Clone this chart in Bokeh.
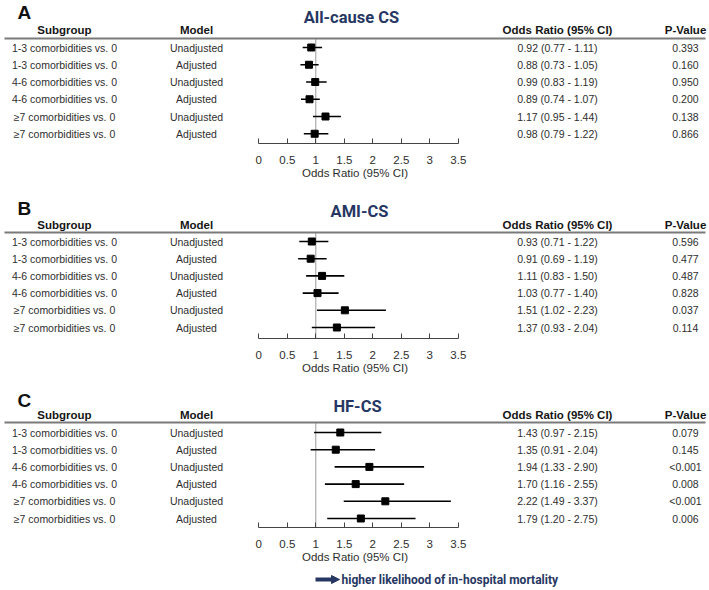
from bokeh.plotting import figure
from bokeh.models import Range1d, LinearAxis, FixedTicker, NumeralTickFormatter, Arrow, NormalHead, ColumnDataSource
from bokeh.layouts import column
from bokeh.embed import file_html
from bokeh.resources import INLINE
from bokeh.core.properties import value

# ---------------- data ----------------
subgroups = ["1-3 comorbidities vs. 0", "1-3 comorbidities vs. 0",
             "4-6 comorbidities vs. 0", "4-6 comorbidities vs. 0",
             "\u22657 comorbidities vs. 0", "\u22657 comorbidities vs. 0"]
models = ["Unadjusted", "Adjusted", "Unadjusted", "Adjusted", "Unadjusted", "Adjusted"]

panel_letters = ["A", "B", "C"]
panel_titles = ["All-cause CS", "AMI-CS", "HF-CS"]

or_A = [0.92, 0.88, 0.99, 0.89, 1.17, 0.98]
lo_A = [0.77, 0.73, 0.83, 0.74, 0.95, 0.79]
hi_A = [1.11, 1.05, 1.19, 1.07, 1.44, 1.22]
p_A = ["0.393", "0.160", "0.950", "0.200", "0.138", "0.866"]

or_B = [0.93, 0.91, 1.11, 1.03, 1.51, 1.37]
lo_B = [0.71, 0.69, 0.83, 0.77, 1.02, 0.93]
hi_B = [1.22, 1.19, 1.50, 1.40, 2.23, 2.04]
p_B = ["0.596", "0.477", "0.487", "0.828", "0.037", "0.114"]

or_C = [1.43, 1.35, 1.94, 1.70, 2.22, 1.79]
lo_C = [0.97, 0.91, 1.33, 1.16, 1.49, 1.20]
hi_C = [2.15, 2.04, 2.90, 2.55, 3.37, 2.75]
p_C = ["0.079", "0.145", "<0.001", "0.008", "<0.001", "0.006"]

x_ticks = [0, 0.5, 1, 1.5, 2, 2.5, 3, 3.5]
ref_or = 1
headers = ["Subgroup", "Model", "Odds Ratio (95% CI)", "P-Value"]
x_label = "Odds Ratio (95% CI)"
arrow_text = "higher likelihood of in-hospital mortality"

# ---------------- layout ----------------
W = 709
X0 = 258.3   # pixel of OR = 0
S = 57.0     # pixels per OR unit


def px2x(px):
    return (px - X0) / S


XR = (px2x(0), px2x(W))
NAVY = "#273763"
TXT = "#2e2e2e"
HDR = "#151515"
BODY_FONT = "Liberation Sans"

col_px = [64, 196, 557, 685]

layouts = [
    dict(frame=143, border=52, letter=12, title=17, title_x=351, header=29, line=38, row0=47, sp=17.25),
    dict(frame=143, border=50, letter=13, title=16, title_x=359, header=29, line=37, row0=46, sp=17.2),
    dict(frame=139, border=43, letter=12, title=18, title_x=357, header=26, line=34, row0=44, sp=17.2),
]


def make_panel(letter, title, orv, lo, hi, pv, lay):
    r0, sp, fh = lay["row0"], lay["sp"], lay["frame"]

    def py(px):
        return (px - r0) / sp

    p = figure(width=W, height=fh + lay["border"],
               x_range=Range1d(*XR), y_range=Range1d(py(fh), py(0)),
               output_backend="svg", toolbar_location=None,
               x_axis_location=None, y_axis_location=None,
               min_border=0, min_border_bottom=lay["border"])
    p.grid.visible = False
    p.outline_line_color = None

    rows = list(range(len(orv)))
    ci_text = [f"{o:.2f} ({l:.2f} - {h:.2f})" for o, l, h in zip(orv, lo, hi)]
    src = ColumnDataSource(dict(y=rows, orv=orv, lo=lo, hi=hi, sub=subgroups,
                                mod=models, ci=ci_text, pv=pv))

    # reference line
    p.segment(x0=[ref_or], y0=[py(lay["line"])], x1=[ref_or], y1=[py(fh)],
              line_color="#9a9a9a", line_width=1)
    # header rule
    p.segment(x0=[px2x(4)], y0=[py(lay["line"])], x1=[px2x(705)], y1=[py(lay["line"])],
              line_color="#7a7a7a", line_width=1.8)

    # CI and points
    p.segment(x0="lo", y0="y", x1="hi", y1="y", source=src, line_color="black", line_width=1.6)
    p.scatter(x="orv", y="y", source=src, marker="square", size=7,
              fill_color="black", line_color="black")

    # table columns
    for cx, field in zip(col_px, ["sub", "mod", "ci", "pv"]):
        p.text(x=px2x(cx), y="y", text=field, source=src, text_align="center",
               text_baseline="middle", text_font=value(BODY_FONT),
               text_font_size="10.5px", text_color=TXT)
    # headers
    p.text(x=[px2x(c) for c in col_px], y=[py(lay["header"])] * 4, text=headers,
           text_align="center", text_baseline="middle", text_font=value(BODY_FONT),
           text_font_style="bold", text_font_size="11.5px", text_color=HDR)
    # title
    p.text(x=[px2x(lay["title_x"])], y=[py(lay["title"])], text=[title], text_align="center",
           text_baseline="middle", text_font=value("Roboto"), text_font_style="bold",
           text_font_size="16.5px", text_color=NAVY)
    # panel letter
    p.text(x=[px2x(17)], y=[py(lay["letter"])], text=[letter], text_align="left",
           text_baseline="middle", text_font=value(BODY_FONT), text_font_style="bold",
           text_font_size="19px", text_color="#111111")

    ax = LinearAxis(ticker=FixedTicker(ticks=x_ticks),
                    formatter=NumeralTickFormatter(format="0.[0]"),
                    bounds=(x_ticks[0], x_ticks[-1]), axis_label=x_label)
    ax.major_tick_in = 5
    ax.major_tick_out = 0
    ax.minor_tick_line_color = None
    ax.axis_line_color = "#444444"
    ax.major_tick_line_color = "#444444"
    ax.major_label_text_font = BODY_FONT
    ax.major_label_text_font_size = "11.5px"
    ax.major_label_text_color = TXT
    ax.major_label_standoff = 12
    ax.axis_label_text_font = BODY_FONT
    ax.axis_label_text_font_size = "11.5px"
    ax.axis_label_text_font_style = "normal"
    ax.axis_label_text_color = TXT
    ax.axis_label_standoff = 0
    p.add_layout(ax, "below")
    return p


panels = []
for letter, title, orv, lo, hi, pv, lay in zip(
        panel_letters, panel_titles,
        [or_A, or_B, or_C], [lo_A, lo_B, lo_C], [hi_A, hi_B, hi_C], [p_A, p_B, p_C],
        layouts):
    panels.append(make_panel(letter, title, orv, lo, hi, pv, lay))

used = sum(l["frame"] + l["border"] for l in layouts)
ah = 590 - used
pa = figure(width=W, height=ah, x_range=Range1d(*XR), y_range=Range1d(0, 1),
            output_backend="svg", toolbar_location=None,
            x_axis_location=None, y_axis_location=None, min_border=0)
pa.grid.visible = False
pa.outline_line_color = None
ya = 1 - 9 / ah
pa.add_layout(Arrow(x_start=px2x(315), y_start=ya, x_end=px2x(339), y_end=ya,
                    line_color=NAVY, line_width=4,
                    end=NormalHead(size=8, fill_color=NAVY, line_color=NAVY)))
pa.text(x=[px2x(341)], y=[ya], text=[arrow_text], text_align="left",
        text_baseline="middle", text_font=value("Roboto"), text_font_style="bold",
        text_font_size="12px", text_color=NAVY)

layout = column(*panels, pa, spacing=0)
open("out.html", "w").write(file_html(layout, INLINE))
